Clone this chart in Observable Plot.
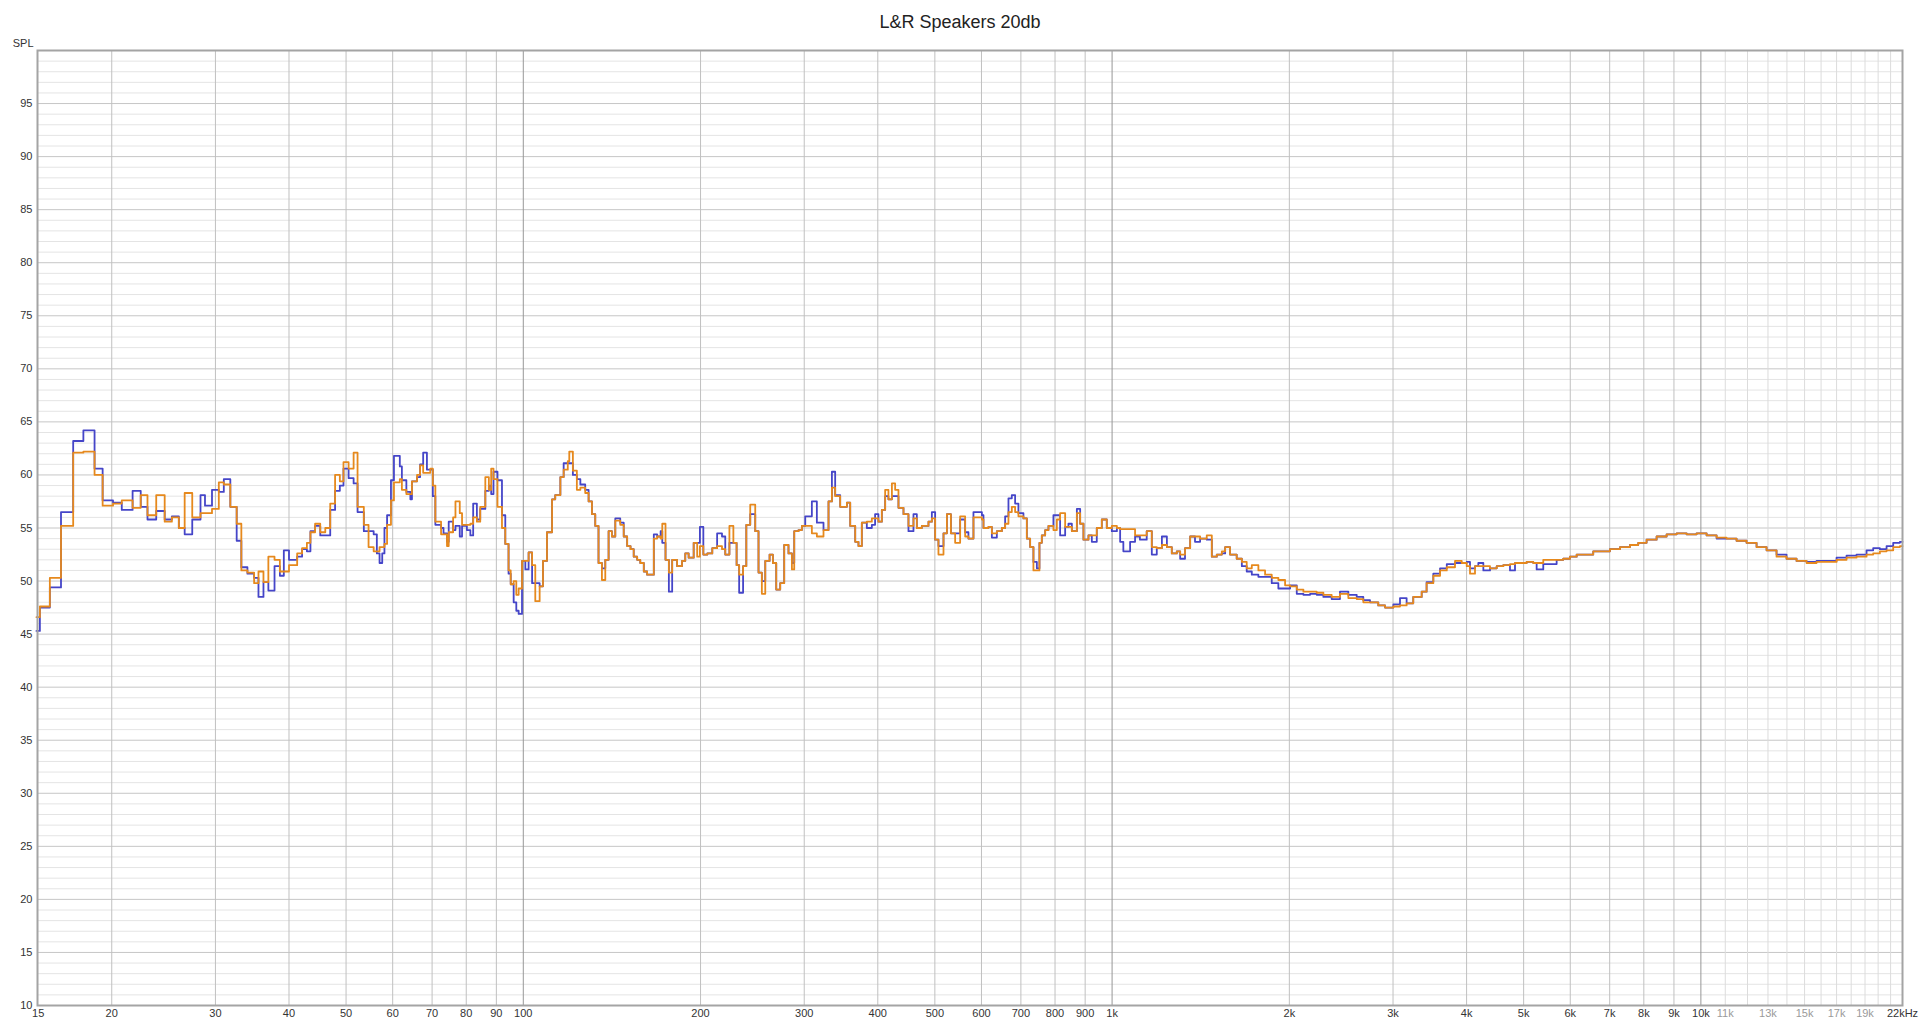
<!DOCTYPE html>
<html>
<head>
<meta charset="utf-8">
<script src="https://cdn.jsdelivr.net/npm/d3@7"></script>
<script src="https://cdn.jsdelivr.net/npm/@observablehq/plot@0.6"></script>
<style>
  html, body { margin: 0; padding: 0; background: #fff; overflow: hidden; }
  body { font-family: "Liberation Sans", Arial, sans-serif; }
  #title { height: 18px; padding-top: 12px; line-height: 20px; text-align: center; font-size: 18px; color: #222; overflow: visible; }
  #chart svg { display: block; }
</style>
</head>
<body>
<div id="title">L&amp;R Speakers 20db</div>
<div id="chart"></div>
<script>
// Frequency (Hz) at the start of each step
const freq = [
  14.9, 15.1, 15.7, 16.4, 17.2, 17.9, 18.7, 19.3, 20.1, 20.8, 21.7, 22.4, 23.0, 23.8, 24.6, 25.3, 26.0, 26.6, 27.4, 28.3,
  28.8, 29.6, 30.4, 31.0, 31.8, 32.6, 33.2, 34.0, 34.9, 35.5, 36.2, 36.9, 37.8, 38.6, 39.2, 40.0, 41.3, 42.1, 42.9, 43.5,
  44.3, 45.2, 46.1, 47.0, 47.9, 48.8, 49.5, 50.5, 51.5, 52.3, 53.6, 54.6, 55.7, 56.4, 57.0, 57.6, 58.1, 58.7, 59.6, 60.3,
  61.7, 62.2, 63.3, 64.3, 64.7, 66.0, 66.8, 67.6, 68.6, 69.5, 70.2, 70.9, 72.5, 73.2, 74.2, 74.7, 76.0, 76.7, 78.0, 78.7,
  80.2, 81.3, 82.2, 83.4, 84.5, 86.2, 87.4, 88.2, 89.0, 90.4, 92.0, 93.2, 94.4, 95.2, 96.3, 97.3, 98.2, 99.5, 100.8, 102.1,
  103.5, 104.8, 106.6, 108.0, 109.7, 111.9, 113.3, 115.6, 117.1, 119.0, 119.7, 121.4, 123.3, 125.0, 127.4, 129.1, 130.8, 132.5, 134.2, 136.0,
  137.8, 139.6, 141.4, 143.3, 146.1, 148.1, 150.1, 152.1, 154.0, 156.1, 158.0, 160.2, 162.3, 166.6, 168.8, 171.1, 172.2, 174.4, 176.7, 179.0,
  182.5, 186.0, 188.4, 190.9, 194.7, 197.4, 199.5, 202.2, 205.4, 209.4, 213.4, 217.5, 220.3, 223.9, 227.4, 230.3, 232.6, 236.2, 239.2, 242.9,
  247.7, 250.9, 254.2, 257.6, 262.0, 265.4, 268.9, 273.1, 277.4, 282.1, 285.9, 288.5, 293.4, 297.3, 301.2, 309.1, 315.2, 323.5, 329.9, 334.3,
  338.6, 345.3, 354.5, 359.1, 366.2, 370.9, 375.8, 383.2, 390.8, 395.8, 401.0, 406.4, 411.7, 417.0, 422.7, 428.1, 433.7, 442.3, 451.0, 459.9,
  466.0, 475.2, 487.7, 494.2, 500.6, 507.1, 517.2, 524.1, 532.4, 541.3, 552.0, 562.9, 570.2, 581.5, 601, 604.7, 616.6, 624.9, 637.2, 649.8,
  658.2, 666.8, 675.6, 684.4, 693.3, 707.0, 716.5, 725.8, 735.2, 745.1, 752.7, 759.7, 769.7, 779.7, 795.0, 805.7, 816.1, 832.3, 843.1, 854.4,
  871.3, 882.6, 894.1, 911.7, 923.8, 941.9, 960.6, 979.5, 998.8, 1019, 1032, 1045, 1073, 1094, 1115, 1145, 1168, 1191, 1215, 1239,
  1263, 1288, 1305, 1330, 1357, 1383, 1411, 1448, 1477, 1506, 1536, 1556, 1586, 1628, 1661, 1693, 1727, 1772, 1819, 1867,
  1916, 1967, 2006, 2059, 2113, 2169, 2226, 2285, 2360, 2438, 2519, 2603, 2671, 2742, 2832, 2908, 3004, 3083, 3164, 3247,
  3356, 3421, 3512, 3606, 3702, 3823, 3925, 4002, 4054, 4134, 4188, 4271, 4384, 4500, 4618, 4740, 4834, 4929, 5059, 5192,
  5261, 5399, 5541, 5689, 5838, 5993, 6152, 6312, 6564, 6783, 7007, 7288, 7578, 7827, 8087, 8410, 8746, 9095, 9456, 9833,
  10226, 10634, 11056, 11497, 11955, 12433, 12929, 13443, 13980, 14538, 15118, 15718, 16346, 16999, 17677, 18380, 19114, 19617, 20137, 20672,
  21214, 21777, 22000
];
// Blue trace (SPL, dB)
const leftSPL = [
  45.3, 47.5, 49.4, 56.5, 63.2, 64.2, 60.6, 57.6, 57.4, 56.7, 58.5, 57.0, 55.8, 56.6, 55.8, 56.1, 55.0, 54.4, 55.8, 58.1,
  57.1, 58.6, 58.4, 59.6, 57.0, 53.8, 51.3, 50.7, 50.3, 48.5, 49.9, 49.1, 51.4, 50.5, 52.9, 52.0, 52.3, 53.0, 52.8, 54.7,
  55.2, 54.3, 54.3, 56.7, 58.5, 59.0, 60.6, 59.7, 59.2, 56.5, 54.7, 54.7, 54.4, 52.6, 51.7, 52.6, 55.0, 56.2, 59.5, 61.8,
  60.8, 59.5, 58.4, 57.7, 59.4, 59.8, 61.0, 62.1, 60.5, 60.5, 58.0, 55.3, 55.0, 54.5, 53.7, 55.6, 54.8, 55.2, 54.2, 55.2,
  54.8, 54.3, 57.3, 55.8, 56.8, 58.5, 59.0, 58.2, 60.3, 59.5, 56.2, 53.5, 50.7, 49.7, 48.0, 47.2, 46.9, 51.9, 51.1, 52.7,
  49.8, 49.8, 49.5, 51.9, 54.6, 57.7, 58.1, 59.8, 61.1, 61.1, 61.1, 60.0, 59.6, 59.1, 58.6, 57.5, 56.3, 55.2, 51.7, 51.2,
  52.0, 54.7, 54.2, 55.9, 55.5, 54.2, 53.3, 53.0, 52.3, 52.0, 51.7, 50.9, 50.6, 54.4, 54.2, 54.7, 53.6, 52.0, 49.0, 52.0,
  51.4, 51.9, 52.6, 52.2, 53.6, 53.6, 55.1, 52.5, 52.6, 53.1, 54.5, 54.2, 52.5, 53.6, 53.6, 51.5, 48.9, 51.4, 55.3, 56.3,
  54.7, 50.8, 50.0, 51.9, 52.5, 51.7, 49.2, 49.8, 53.4, 52.6, 51.7, 54.7, 54.8, 55.2, 56.1, 57.5, 55.5, 54.8, 57.5, 60.3,
  58.1, 57.0, 57.4, 55.2, 53.7, 53.3, 55.5, 55.0, 55.3, 56.3, 55.6, 56.7, 58.0, 57.7, 58.0, 58.0, 56.9, 56.3, 54.7, 56.3,
  55.0, 55.2, 55.6, 56.5, 53.9, 53.3, 54.5, 56.3, 54.5, 54.5, 55.8, 54.6, 54.0, 56.5, 56.2, 55.0, 55.1, 54.1, 54.7, 55.0,
  56.1, 57.8, 58.1, 57.3, 56.4, 55.9, 54.0, 53.2, 51.8, 51.2, 53.6, 54.3, 54.8, 55.2, 56.2, 56.2, 54.3, 55.1, 55.4, 54.7,
  56.8, 55.4, 53.9, 54.3, 53.7, 55.0, 55.8, 55.0, 54.7, 55.0, 53.7, 52.8, 53.7, 54.2, 53.9, 54.7, 52.5, 53.1, 54.2, 53.2,
  52.6, 52.8, 52.1, 53.1, 54.2, 53.7, 54.0, 53.9, 52.3, 52.5, 52.6, 53.2, 52.5, 52.1, 51.4, 50.9, 50.6, 50.4, 50.4, 49.8,
  49.3, 49.3, 49.6, 48.8, 48.7, 48.8, 48.7, 48.5, 48.3, 49.0, 48.7, 48.5, 48.2, 48.0, 47.7, 47.5, 47.8, 48.4, 47.9, 48.5,
  49.0, 49.9, 50.7, 51.2, 51.6, 51.7, 51.7, 51.8, 51.2, 51.4, 51.7, 51.0, 51.2, 51.4, 51.5, 51.0, 51.7, 51.7, 51.8, 51.7,
  51.1, 51.6, 51.6, 52.0, 52.1, 52.3, 52.5, 52.5, 52.8, 52.8, 53.0, 53.2, 53.4, 53.6, 53.9, 54.2, 54.4, 54.5, 54.4, 54.5,
  54.3, 54.0, 54.0, 53.8, 53.6, 53.2, 52.9, 52.5, 52.1, 51.9, 51.8, 51.9, 51.9, 52.2, 52.4, 52.5, 52.9, 53.1, 53.0, 53.3,
  53.6, 53.7, 53.7
];
// Orange trace (SPL, dB)
const rightSPL = [
  46.6, 47.6, 50.3, 55.2, 62.1, 62.2, 60.0, 57.1, 57.3, 57.6, 56.9, 58.1, 56.2, 58.1, 55.6, 56.0, 55.0, 58.3, 56.0, 56.4,
  56.4, 56.8, 59.3, 59.1, 57.0, 55.4, 51.0, 50.8, 49.8, 50.9, 49.9, 52.3, 52.0, 50.9, 50.9, 51.5, 52.6, 53.1, 53.6, 54.6,
  55.4, 54.6, 55.0, 57.3, 60.0, 59.4, 61.2, 60.6, 62.1, 57.0, 55.3, 53.2, 52.8, 52.8, 53.2, 53.2, 53.5, 55.3, 57.6, 59.3,
  59.6, 58.6, 58.2, 58.2, 59.4, 60.0, 60.9, 60.2, 60.2, 60.6, 59.0, 55.6, 54.4, 54.4, 53.3, 54.6, 56.0, 57.5, 56.4, 55.3,
  55.3, 55.4, 56.0, 55.6, 57.0, 59.8, 58.6, 60.6, 59.6, 57.0, 55.0, 53.5, 51.0, 49.7, 50.0, 48.7, 49.3, 51.9, 51.9, 52.7,
  51.5, 48.1, 49.5, 51.9, 54.6, 57.7, 58.1, 59.8, 60.5, 61.3, 62.2, 60.4, 58.6, 58.8, 58.3, 57.5, 56.3, 55.2, 51.7, 50.1,
  52.0, 54.7, 54.2, 55.7, 55.3, 54.2, 53.3, 53.0, 52.3, 52.0, 51.7, 50.9, 50.6, 54.0, 54.2, 54.0, 55.4, 52.0, 50.8, 52.0,
  51.4, 51.9, 52.6, 52.2, 53.6, 52.3, 53.3, 52.5, 52.6, 53.1, 53.3, 53.0, 52.5, 55.2, 53.6, 51.5, 50.6, 51.4, 55.3, 57.2,
  54.7, 50.8, 48.8, 51.9, 52.5, 51.7, 49.2, 49.8, 53.4, 52.6, 51.1, 54.7, 54.8, 55.2, 55.2, 54.5, 54.2, 54.8, 57.5, 58.8,
  58.0, 57.0, 57.4, 55.2, 53.7, 53.3, 55.5, 55.6, 55.9, 55.9, 55.6, 56.7, 58.6, 57.7, 59.2, 58.6, 56.9, 56.3, 55.2, 55.9,
  55.0, 55.2, 55.6, 55.9, 53.9, 52.5, 54.5, 56.3, 54.5, 53.6, 56.1, 54.2, 54.0, 56.0, 55.8, 55.0, 55.1, 54.5, 54.7, 55.0,
  55.4, 56.5, 57.0, 56.5, 56.1, 55.9, 54.0, 53.2, 51.0, 51.0, 53.6, 54.3, 54.8, 55.2, 54.8, 55.8, 56.4, 55.1, 55.1, 54.7,
  56.4, 55.4, 53.9, 54.3, 54.3, 55.0, 55.8, 55.0, 55.2, 55.0, 54.9, 54.9, 54.9, 54.3, 54.3, 54.7, 53.2, 53.1, 53.4, 53.2,
  52.6, 52.8, 52.5, 53.1, 54.2, 54.2, 54.0, 54.3, 52.3, 52.5, 52.8, 53.2, 52.5, 52.1, 51.8, 51.2, 51.5, 51.0, 50.6, 50.3,
  50.1, 49.6, 49.5, 49.2, 49.0, 49.0, 48.9, 48.7, 48.5, 48.8, 48.4, 48.3, 48.0, 48.0, 47.7, 47.5, 47.6, 47.7, 47.9, 48.5,
  49.0, 49.8, 50.5, 51.0, 51.3, 51.9, 51.7, 51.4, 50.7, 51.4, 51.4, 51.4, 51.2, 51.4, 51.5, 51.6, 51.7, 51.7, 51.8, 51.7,
  51.7, 52.0, 52.0, 52.0, 52.1, 52.3, 52.5, 52.5, 52.8, 52.8, 53.0, 53.2, 53.4, 53.6, 53.9, 54.2, 54.4, 54.5, 54.4, 54.5,
  54.3, 54.1, 54.0, 53.8, 53.6, 53.2, 52.9, 52.3, 52.1, 51.9, 51.7, 51.8, 51.8, 52.0, 52.2, 52.3, 52.5, 52.6, 52.8, 52.9,
  53.2, 53.3, 53.3
];

// Axis ticks and grid values
const yLabelTicks = [10, 15, 20, 25, 30, 35, 40, 45, 50, 55, 60, 65, 70, 75, 80, 85, 90, 95];
const yMajorGrid = [15, 20, 25, 30, 35, 40, 45, 50, 55, 60, 65, 70, 75, 80, 85, 90, 95];
const yMinorGrid = d3.range(11, 100, 1).filter(v => v % 5 !== 0);
const xLabelTicks = [15, 20, 30, 40, 50, 60, 70, 80, 90, 100, 200, 300, 400, 500, 600, 700, 800, 900,
  1000, 2000, 3000, 4000, 5000, 6000, 7000, 8000, 9000, 10000, 22000];
const xFaintLabelTicks = [11000, 13000, 15000, 17000, 19000];
const xGrid = [20, 30, 40, 50, 60, 70, 80, 90, 200, 300, 400, 500, 600, 700, 800, 900,
  2000, 3000, 4000, 5000, 6000, 7000, 8000, 9000];
const xDecadeGrid = [100, 1000, 10000];
const xHighGrid = [11000, 12000, 13000, 14000, 15000, 16000, 17000, 18000, 19000, 20000, 21000];

const data = freq.map((f, i) => ({f, L: leftSPL[i], R: rightSPL[i]}));
const fmt = f => f === 22000 ? "22kHz" : f >= 1000 ? (f / 1000) + "k" : String(f);

const chart = Plot.plot({
  width: 1920,
  height: 995,
  marginTop: 20,
  marginBottom: 20,
  marginLeft: 37,
  marginRight: 18,
  x: {type: "log", domain: [14.96, 22000], axis: null},
  y: {domain: [10, 100], axis: null},
  style: {fontFamily: "'Liberation Sans', Arial, sans-serif", fontSize: "11px", color: "#333", background: "#fff"},
  marks: [
    Plot.ruleY(yMinorGrid, {stroke: "#e4e4e4"}),
    Plot.ruleY(yMajorGrid, {stroke: "#c6c6c6"}),
    Plot.ruleX(xHighGrid, {stroke: "#dcdcdc"}),
    Plot.ruleX(xGrid, {stroke: "#c0c0c0"}),
    Plot.ruleX(xDecadeGrid, {stroke: "#979797"}),
    Plot.line(data, {x: "f", y: "L", curve: "step-after", stroke: "#4545c8", strokeWidth: 1.8}),
    Plot.line(data, {x: "f", y: "R", curve: "step-after", stroke: "#e6891d", strokeWidth: 1.8}),
    Plot.frame({stroke: "#a4a4a4", strokeWidth: 2}),
    Plot.text(yLabelTicks, {y: d => d, text: d => String(d), frameAnchor: "left", textAnchor: "end", lineAnchor: "middle", dx: -5, fill: "#333"}),
    Plot.text(xLabelTicks, {x: d => d, text: fmt, frameAnchor: "bottom", textAnchor: "middle", lineAnchor: "top", dy: 4, fill: "#333"}),
    Plot.text(xFaintLabelTicks, {x: d => d, text: fmt, frameAnchor: "bottom", textAnchor: "middle", lineAnchor: "top", dy: 4, fill: "#9a9a9a"}),
    Plot.text(["SPL"], {text: d => d, frameAnchor: "top-left", textAnchor: "end", lineAnchor: "middle", dx: -4, dy: -7, fill: "#333"})
  ]
});
document.getElementById("chart").appendChild(chart);
</script>
</body>
</html>
